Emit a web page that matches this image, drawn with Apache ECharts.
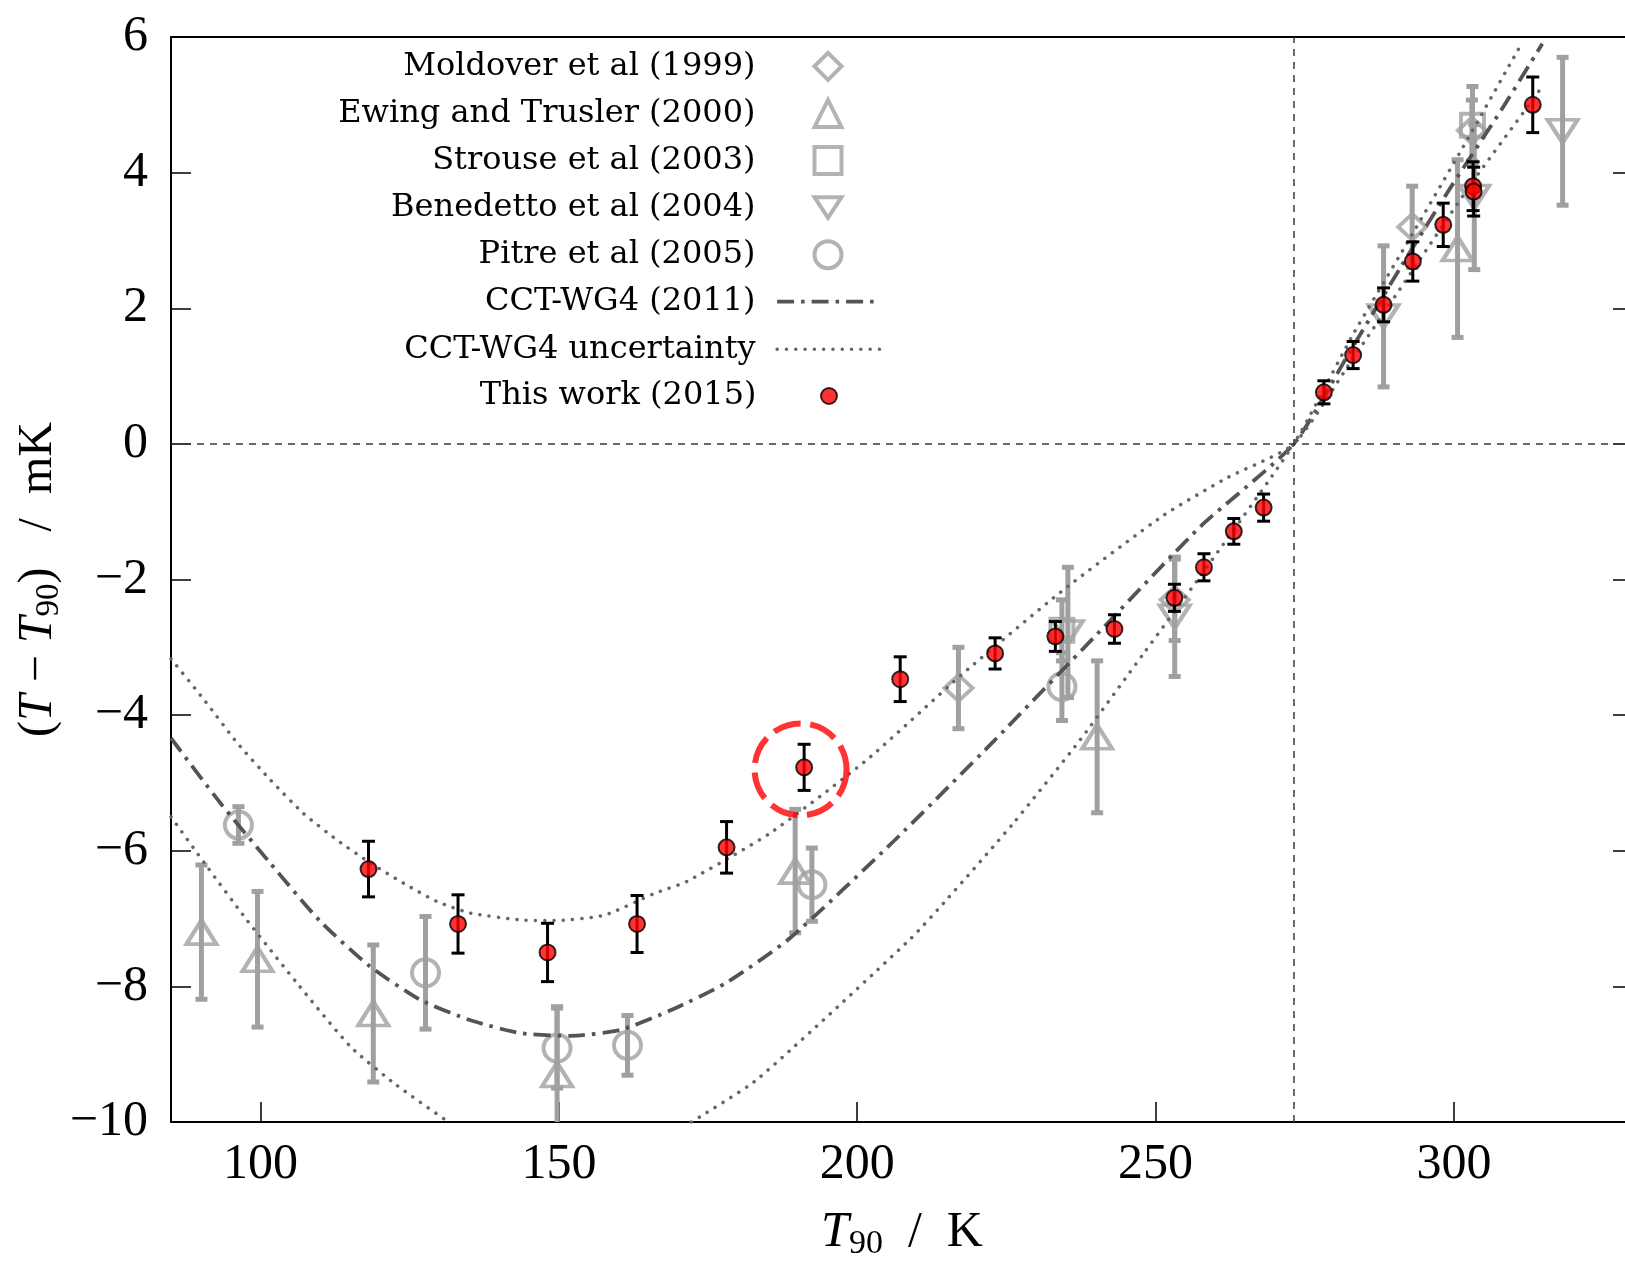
<!DOCTYPE html>
<html>
<head>
<meta charset="utf-8">
<script src="https://cdn.jsdelivr.net/npm/echarts@6/dist/echarts.min.js"></script>
<style>
  html, body { margin: 0; padding: 0; background: #ffffff; }
  #chart { width: 1625px; height: 1264px; }
</style>
</head>
<body>
<div id="chart"></div>
<script>
// Tick positions on the temperature axis
const xTicks = [100, 150, 200, 250, 300];

// Measurements: [T90 / K, (T - T90) / mK, half-width of the error bar / mK]
const moldover = [[216.96, -3.60, 0.60], [253.2, -2.30, 0.60], [293.0, 3.20, 0.60], [303.0, 4.62, 0.45]];
const ewingTrusler = [[90.1, -7.20, 0.99], [99.5, -7.60, 1.00], [118.9, -8.40, 1.01], [149.7, -9.30, 1.00],
                      [189.6, -6.30, 0.91], [240.2, -4.32, 1.12], [300.6, 2.88, 1.31]];
const strouse = [[234.3, -2.75, 0.45], [303.1, 4.70, 0.57]];
const benedetto = [[235.3, -2.78, 0.96], [253.2, -2.55, 0.88], [288.2, 1.88, 1.04], [303.4, 3.64, 1.07], [318.2, 4.61, 1.09]];
const pitre = [[96.3, -5.62, 0.27], [127.65, -7.80, 0.83], [149.7, -8.91, 0.59], [161.5, -8.87, 0.44],
               [192.4, -6.50, 0.54], [234.3, -3.58, 0.50]];
const thisWork = [
  [118.1, -6.27, 0.41], [133.1, -7.08, 0.43], [148.1, -7.50, 0.43], [163.1, -7.08, 0.42], [178.1, -5.95, 0.38],
  [191.1, -4.77, 0.34], [207.2, -3.47, 0.33], [223.1, -3.09, 0.23], [233.2, -2.84, 0.22], [243.1, -2.73, 0.21],
  [253.15, -2.27, 0.20], [258.1, -1.82, 0.20], [263.1, -1.29, 0.19], [268.1, -0.94, 0.20], [278.2, 0.76, 0.17],
  [283.1, 1.31, 0.20], [288.2, 2.05, 0.25], [293.1, 2.69, 0.29], [298.2, 3.23, 0.32], [303.2, 3.80, 0.36],
  [303.3, 3.72, 0.36], [313.2, 5.00, 0.41]
];

// CCT-WG4 (2011) consensus curve
const cctT = [85, 93.3, 101.6, 110, 118.4, 126.8, 135.2, 143.6, 152, 160.4, 168.8, 178, 188.7, 206.1, 222.8,
              239.6, 257.5, 273.16, 282.7, 291.1, 299.5, 307.9, 314.8];
const cctV = [-4.34, -5.30, -6.18, -7.04, -7.71, -8.20, -8.50, -8.69, -8.73, -8.64, -8.35, -7.95, -7.29, -5.86, -4.39,
              -2.86, -1.22, 0, 1.38, 2.61, 3.79, 4.92, 5.90];

// Uncertainty band: branch lying above the curve below the triple point of water
const bandAT = [85, 90.5, 96.1, 101.6, 107.2, 112.8, 118.4, 124, 129.6, 135.2, 143.6, 149.2, 157.6, 166, 171.5,
                185.4, 201.6, 217.8, 234.6, 251.4, 262, 273.16, 283, 293, 303, 313, 315];
const bandAV = [-3.17, -3.77, -4.41, -4.95, -5.45, -5.84, -6.18, -6.48, -6.75, -6.92, -7.02, -7.03, -6.95, -6.63, -6.45,
                -5.74, -4.66, -3.38, -2.15, -1.05, -0.50, 0, 1.25, 2.55, 3.85, 5.05, 5.30];
// Branch lying below the curve (leaves the plot between about 131 K and 172 K)
const bandB1T = [85, 91, 97.7, 106.1, 115.1, 122.7, 131.5];
const bandB1V = [-5.50, -6.23, -7.02, -7.95, -8.89, -9.45, -10.0];
const bandB2T = [172.2, 183.1, 208.8, 215.0, 226.2, 237.4, 248, 257.5, 273.16, 283, 292.2, 302, 311.5];
const bandB2V = [-10.0, -9.38, -7.31, -6.72, -5.59, -4.36, -3.09, -1.95, 0, 1.60, 2.97, 4.45, 5.93];

// Highlighted measurement (dashed red ring)
const highlight = [[190.5, -4.8]];

// Reference lines: T = T90 and the triple point of water
const zeroLevel = 0;
const tpw = 273.16;

const names = {
  moldover: 'Moldover et al (1999)',
  ewing: 'Ewing and Trusler (2000)',
  strouse: 'Strouse et al (2003)',
  benedetto: 'Benedetto et al (2004)',
  pitre: 'Pitre et al (2005)',
  cct: 'CCT-WG4 (2011)',
  band: 'CCT-WG4 uncertainty',
  thisWork: 'This work (2015)'
};

const GREY = '#a0a0a0';
const SERIF = 'Liberation Serif';
const zip = (xs, ys) => xs.map((x, i) => [x, ys[i]]);

function errorBars(id, data, color, lineWidth, capWidth, z) {
  return {
    type: 'custom', name: id, data: data, z: z, silent: true, clip: true,
    encode: { x: 0, y: 1 },
    renderItem(params, api) {
      const x = api.value(0), y = api.value(1), e = api.value(2);
      const cs = params.coordSys;
      const hi = api.coord([x, y + e]);
      const lo = api.coord([x, y - e]);
      const yTop = cs.y, yBot = cs.y + cs.height;
      const style = { stroke: color, lineWidth: lineWidth, fill: null };
      const h = capWidth / 2;
      const children = [{
        type: 'line',
        shape: { x1: hi[0], y1: Math.max(hi[1], yTop), x2: lo[0], y2: Math.min(lo[1], yBot) },
        style: style
      }];
      if (hi[1] >= yTop) children.push({ type: 'line', shape: { x1: hi[0] - h, y1: hi[1], x2: hi[0] + h, y2: hi[1] }, style: style });
      if (lo[1] <= yBot) children.push({ type: 'line', shape: { x1: lo[0] - h, y1: lo[1], x2: lo[0] + h, y2: lo[1] }, style: style });
      return { type: 'group', children: children };
    }
  };
}

function greyMarkers(name, data, symbol, size, rotate) {
  return {
    type: 'scatter', name: name, data: data, encode: { x: 0, y: 1 },
    symbol: symbol, symbolSize: size, symbolRotate: rotate || 0, z: 3, silent: true,
    itemStyle: { color: 'rgba(255,255,255,0)', borderColor: GREY, borderWidth: 4 }
  };
}

const dotted = { color: '#666666', width: 3.5, type: [0.1, 9.2], cap: 'round' };

const chart = echarts.init(document.getElementById('chart'), null, { renderer: 'canvas' });

const legendText = { fontFamily: 'DejaVu Serif', fontSize: 32, color: '#000', lineHeight: 32 };
const legendBase = {
  orient: 'vertical', align: 'right', padding: 0, selectedMode: false, symbolKeepAspect: true,
  itemStyle: { borderWidth: 'inherit' }, lineStyle: { width: 'inherit' }
};

const option = {
  animation: false,
  backgroundColor: '#ffffff',
  textStyle: { fontFamily: SERIF },
  grid: { left: 171, right: -8, top: 37, bottom: 142, containLabel: false, outerBoundsMode: 'none' },
  legend: [
    Object.assign({}, legendBase, {
      data: [names.moldover, names.ewing, names.strouse,
             { name: names.benedetto, icon: 'path://M0,0L30,0L15,23Z' }, names.pitre],
      itemWidth: 27, itemHeight: 27, itemGap: 15.1, right: 781.5, top: 50.3,
      textStyle: Object.assign({}, legendText, { padding: [0, 54, 0, 0] })
    }),
    Object.assign({}, legendBase, {
      data: [{ name: names.cct, itemStyle: { opacity: 0 } }, { name: names.band, itemStyle: { opacity: 0 } }],
      itemWidth: 103, itemHeight: 27, itemGap: 15.7, right: 743, top: 285.6,
      textStyle: Object.assign({}, legendText, { padding: [0, 16.5, 0, 0] })
    }),
    Object.assign({}, legendBase, {
      data: [names.thisWork],
      itemWidth: 16, itemHeight: 16, right: 787, top: 380,
      textStyle: Object.assign({}, legendText, { padding: [0, 59.5, 0, 0] })
    })
  ],
  xAxis: [{
    type: 'value', min: 85, max: 330, position: 'bottom',
    axisLine: { show: true, onZero: false, lineStyle: { color: '#000', width: 2 } },
    axisTick: { show: true, inside: true, length: 20, customValues: xTicks, lineStyle: { color: '#000', width: 1.5 } },
    axisLabel: { show: true, customValues: xTicks, margin: 18, fontFamily: SERIF, fontSize: 50, color: '#000' },
    splitLine: { show: false },
    name: '{i|T}{s|90}{p|  /  K}', nameLocation: 'middle', nameGap: 83, nameMoveOverlap: false,
    nameTextStyle: {
      color: '#000', fontFamily: SERIF, fontSize: 50,
      rich: {
        i: { fontFamily: SERIF, fontStyle: 'italic', fontSize: 50, lineHeight: 56, color: '#000' },
        s: { fontFamily: SERIF, fontSize: 34, lineHeight: 34, verticalAlign: 'bottom', color: '#000' },
        p: { fontFamily: SERIF, fontSize: 50, lineHeight: 56, color: '#000' }
      }
    }
  }, {
    type: 'value', min: 85, max: 330, position: 'top',
    axisLine: { show: true, onZero: false, lineStyle: { color: '#000', width: 2 } },
    axisTick: { show: false }, axisLabel: { show: false }, splitLine: { show: false }
  }],
  yAxis: [{
    type: 'value', min: -10, max: 6, interval: 2, position: 'left',
    axisLine: { show: true, onZero: false, lineStyle: { color: '#000', width: 2 } },
    axisTick: { show: true, inside: true, length: 20, lineStyle: { color: '#000', width: 1.5 } },
    axisLabel: {
      show: true, margin: 23, fontFamily: SERIF, fontSize: 50, color: '#000',
      formatter: v => String(v).replace('-', '\u2212')
    },
    splitLine: { show: false },
    name: '{p|(}{i|T}{p| \u2212 }{i|T}{s|90}{p|)   /  mK}', nameLocation: 'middle', nameGap: 105,
    nameRotate: 90, nameMoveOverlap: false,
    nameTextStyle: {
      color: '#000', fontFamily: SERIF, fontSize: 48,
      rich: {
        i: { fontFamily: SERIF, fontStyle: 'italic', fontSize: 48, lineHeight: 56, color: '#000' },
        s: { fontFamily: SERIF, fontSize: 33, lineHeight: 33, verticalAlign: 'bottom', color: '#000' },
        p: { fontFamily: SERIF, fontSize: 48, lineHeight: 56, color: '#000' }
      }
    }
  }, {
    type: 'value', min: -10, max: 6, interval: 2, position: 'right',
    axisLine: { show: true, onZero: false, lineStyle: { color: '#000', width: 2 } },
    axisTick: { show: true, inside: true, length: 20, lineStyle: { color: '#000', width: 1.5 } },
    axisLabel: { show: false }, splitLine: { show: false }
  }],
  series: [
    // grey literature data: error bars first, hollow markers on top
    errorBars('eb-moldover', moldover, GREY, 5, 12, 2),
    errorBars('eb-ewing', ewingTrusler, GREY, 5, 12, 2),
    errorBars('eb-strouse', strouse, GREY, 5, 12, 2),
    errorBars('eb-benedetto', benedetto, GREY, 5, 12, 2),
    errorBars('eb-pitre', pitre, GREY, 5, 12, 2),
    Object.assign(greyMarkers(names.moldover, moldover, 'diamond', [28, 26]), {
      markLine: {
        silent: true, symbol: 'none', label: { show: false },
        lineStyle: { color: '#3a3a3a', width: 1.5, type: [7, 6] },
        data: [{ yAxis: zeroLevel }, { xAxis: tpw }]
      }
    }),
    greyMarkers(names.ewing, ewingTrusler, 'triangle', [30, 24]),
    greyMarkers(names.strouse, strouse, 'rect', [23, 23]),
    greyMarkers(names.benedetto, benedetto, 'triangle', [30, 23], 180),
    greyMarkers(names.pitre, pitre, 'circle', 27),
    // CCT-WG4 curve and its uncertainty band
    {
      type: 'line', name: names.cct, data: zip(cctT, cctV), symbol: 'none', smooth: 0.2, z: 4, silent: true,
      itemStyle: { color: 'rgba(0,0,0,0)' },
      lineStyle: { color: '#545454', width: 3.8, type: [17, 7, 3.5, 7] }
    },
    {
      type: 'line', name: names.band, data: zip(bandAT, bandAV), symbol: 'none', smooth: 0.2, z: 4, silent: true,
      itemStyle: { color: 'rgba(0,0,0,0)' }, lineStyle: dotted
    },
    {
      type: 'line', name: names.band, data: zip(bandB1T, bandB1V), symbol: 'none', smooth: 0.2, z: 4, silent: true,
      itemStyle: { color: 'rgba(0,0,0,0)' }, lineStyle: dotted
    },
    {
      type: 'line', name: names.band, data: zip(bandB2T, bandB2V), symbol: 'none', smooth: 0.2, z: 4, silent: true,
      itemStyle: { color: 'rgba(0,0,0,0)' }, lineStyle: dotted
    },
    // this work
    errorBars('eb-thiswork', thisWork, '#000000', 3, 13, 5),
    {
      type: 'scatter', name: names.thisWork, data: thisWork, encode: { x: 0, y: 1 },
      symbol: 'circle', symbolSize: 16, z: 6, silent: true,
      itemStyle: { color: '#ff0000', borderColor: '#000000', borderWidth: 2 }
    },
    {
      type: 'scatter', name: 'highlight', data: highlight, symbol: 'circle', symbolSize: 92, z: 7, silent: true,
      itemStyle: { color: 'rgba(255,255,255,0)', borderColor: '#ff0000', borderWidth: 6, borderType: [28, 9.7] }
    }
  ]
};

chart.setOption(option);
</script>
</body>
</html>
